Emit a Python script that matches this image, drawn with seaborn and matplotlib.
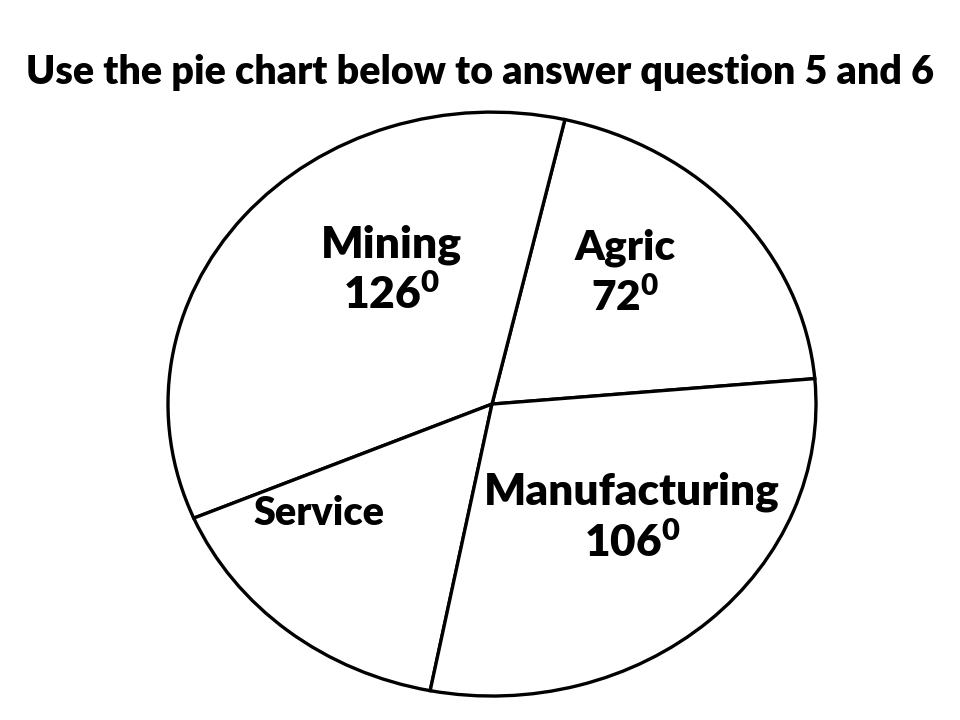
import matplotlib
matplotlib.use("Agg")
import matplotlib.pyplot as plt
import seaborn as sns

# Sectors of the pie (degrees), counter-clockwise from Agric
sectors = ["Agric", "Mining", "Service", "Manufacturing"]
degrees = [72, 126, 56, 106]
show_value = [True, True, False, True]

sns.set_theme(style="white")
plt.rcParams['font.family'] = ['Lato', 'DejaVu Sans']
plt.rcParams['mathtext.fontset'] = 'custom'
plt.rcParams['mathtext.rm'] = 'Lato:heavy'
plt.rcParams['mathtext.bf'] = 'Lato:heavy'
plt.rcParams['mathtext.it'] = 'Lato:heavy'

fig = plt.figure(figsize=(9.6, 7.2), dpi=100)
fig.patch.set_facecolor("white")
ax = fig.add_axes([0.175, 0.0333, 0.675, 0.811])

wedges, _ = ax.pie(degrees, startangle=5, counterclock=True,
                   colors=["white"] * len(degrees),
                   wedgeprops=dict(edgecolor="black", linewidth=2.4))
ax.set_aspect("auto")
ax.set_xlim(-1.0, 1.0)
ax.set_ylim(-1.0, 1.0)
ax.axis("off")

# label placement (axes data coords)
label_pos = {"Agric": (0.41, 0.449), "Mining": (-0.309, 0.459),
             "Service": (-0.535, -0.375), "Manufacturing": (0.432, -0.389)}
label_size = {"Agric": 30.5, "Mining": 32, "Service": 28.5, "Manufacturing": 31.8}

for name, deg, show in zip(sectors, degrees, show_value):
    x, y = label_pos[name]
    txt = name + ("\n" + str(deg) + r"$^{0}$" if show else "")
    ax.text(x, y, txt, ha="center", va="center", fontsize=label_size[name],
            fontweight="heavy", color="black", linespacing=1.25)

fig.text(0.5, 0.899, "Use the pie chart below to answer question 5 and 6",
         ha="center", va="center", fontsize=28.4, fontweight="heavy", color="black")

fig.savefig("out.png", dpi=100, facecolor="white")
